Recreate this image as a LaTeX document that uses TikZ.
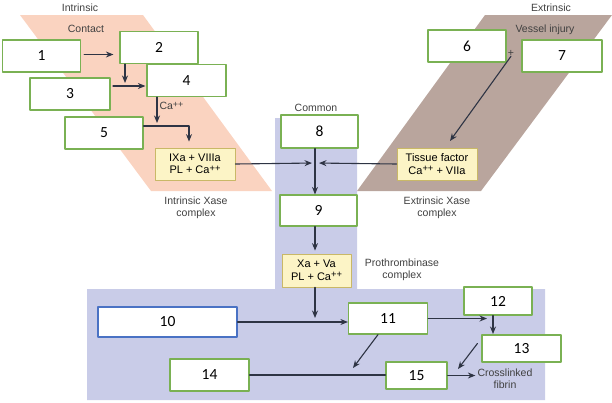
\documentclass[tikz,border=0pt]{standalone}
\usepackage{fontspec}
\setmainfont{Liberation Sans}
\newfontfamily\numfont{Carlito}
\usetikzlibrary{arrows.meta}
\definecolor{peach}{HTML}{FAD3C0}
\definecolor{mauve}{HTML}{B9A59D}
\definecolor{lilac}{HTML}{C9CCE8}
\definecolor{boxgreen}{HTML}{7AB153}
\definecolor{boxblue}{HTML}{4A72C4}
\definecolor{cplxfill}{HTML}{FCF4C6}
\definecolor{cplxedge}{HTML}{C9B867}
\definecolor{arrowc}{HTML}{2E3444}
\definecolor{lblgray}{HTML}{404040}
\newcommand\ionplus{\raisebox{0.45ex}{\scalebox{0.85}{++}}}

\begin{document}
\begin{tikzpicture}[>={Stealth[length=7.5pt, width=6pt]}, line cap=round, line join=round, x=1pt, y=-1pt,
    numbox/.style={draw=boxgreen, line width=1.2pt, fill=white, inner sep=0pt,
      minimum width=78pt, minimum height=32pt, font=\numfont\fontsize{15.5}{17}\selectfont},
    cplx/.style={draw=cplxedge, line width=0.8pt, fill=cplxfill, inner sep=0pt,
      minimum width=80pt, minimum height=32pt, align=center,
      font=\fontsize{11}{12.5}\selectfont},
    lbl/.style={text=lblgray, align=center, inner sep=0pt,
      font=\fontsize{10.5}{12.5}\selectfont},
    flow/.style={->, draw=arrowc, line width=1.1pt},
    link/.style={draw=arrowc, line width=1.1pt}]

          % Fix the page to the size of the picture
          \useasboundingbox (0,0) rectangle (612,402);

          % Background regions: intrinsic, extrinsic and common pathway
          \fill[peach] (20,15) -- (143,15) -- (272,191) -- (151,191) -- cycle;
          \fill[mauve] (485,15) -- (612,15) -- (481,191) -- (357,191) -- cycle;
          \fill[lilac] (275,118) -- (357,118) -- (357,289) -- (545,289)
               -- (545,400) -- (87,400) -- (87,289) -- (275,289) -- cycle;

          % Region titles
          \node[lbl] (intr) at (80,8)   {Intrinsic};
          \node[lbl] (cont) at (86,29)  {Contact};
          \node[lbl] (comm) at (316,108) {Common};
          \node[lbl] (extr) at (551,8)  {Extrinsic};
          \node[lbl] (vess) at (545,30) {Vessel injury};

          % Numbered blanks
          \node[numbox] (n1) at (41.5,56) {1};
          \node[numbox] (n2) at (159,47.5) {2};
          \node[numbox, minimum width=80pt] (n3) at (70,94) {3};
          \node[numbox, minimum width=79pt] (n4) at (186.5,80.5) {4};
          \node[numbox] (n5) at (104,133) {5};
          \node[numbox] (n6) at (467,46) {6};
          \node[numbox, minimum width=80pt] (n7) at (562,56) {7};
          \node[numbox, minimum width=77pt, minimum height=33pt] (n8) at (319.5,131.5) {8};
          \node[numbox, minimum width=77pt, minimum height=31pt] (n9) at (318.5,210.5) {9};
          \node[numbox, draw=boxblue, minimum width=139pt, minimum height=30pt] (n10) at (167.5,322) {10};
          \node[numbox, minimum width=79pt, minimum height=31pt] (n11) at (388,318.5) {11};
          \node[numbox, minimum width=68pt, minimum height=28pt] (n12) at (498,301) {12};
          \node[numbox, minimum width=79pt, minimum height=27pt] (n13) at (521.5,348.5) {13};
          \node[numbox, minimum width=79pt] (n14) at (209.5,375) {14};
          \node[numbox, minimum width=61pt, minimum height=27pt] (n15) at (416.5,375.5) {15};

          % Complexes
          \node[cplx] (ix) at (195,164) {IXa + VIIIa\\PL + Ca\ionplus};
          \node[cplx] (tf) at (437,164) {Tissue factor\\Ca\ionplus{} + VIIa};
          \node[cplx, minimum width=69pt, minimum height=33pt] (xa) at (316.5,270.5) {Xa + Va\\PL + Ca\ionplus};

          \node[lbl] (ixl) at (196,208) {Intrinsic Xase\\complex};
          \node[lbl] (tfl) at (437,208) {Extrinsic Xase\\complex};
          \node[lbl] (xal) at (402,270) {Prothrombinase\\complex};
          \node[lbl, font=\fontsize{10.5}{12}\selectfont] (cf) at (505,379) {Crosslinked\\fibrin};
          \node[lbl] (plus) at (511,53) {+};

          % Junction points
          \coordinate (j2) at (125,83);
          \coordinate (j3) at (113,86);
          \coordinate (j4) at (157,123);
          \coordinate (jc) at (315,163);
          \coordinate (tfin) at (450,141);
          \coordinate (j10) at (315,318);
          \coordinate (j12) at (493,320);
          \coordinate (j13) at (493,334);
          \coordinate (f1) at (353,368);
          \coordinate (f2) at (458,369);

          % Intrinsic cascade
          \draw[flow, shorten <=3pt, shorten >=6pt] ([yshift=1.5pt]n1.east) -- ([yshift=1.5pt]n1.east -| n2.west);
          \draw[flow] (n2.south -| j2) -- (j2);
          \draw[flow, shorten >=1pt] (j3) -- (j3 -| n4.west);
          \draw[flow] (n4.south -| j4) -- node[lbl, right, pos=0.35, xshift=2pt] {Ca\ionplus} (j4);
          \draw[flow] ([yshift=7pt]n5.east) -| ([xshift=-6pt, yshift=6pt]ix.north);

          % Extrinsic cascade
          \draw[flow] (plus.south) -- (tfin);

          % Into the common pathway
          \draw[flow, shorten >=3pt] (ix.east) -- (jc);
          \draw[flow, shorten >=4pt] (tf.west) -- (jc);
          \draw[flow] (n8.south -| jc) -- (n9.north -| jc);
          \draw[flow, shorten >=3pt] (n9.south -| jc) -- (xa.north -| jc);
          \draw[flow] (xa.south -| jc) -- (j10);

          % Bottom row
          \draw[flow] (n10.east) -- (n10.east -| n11.west);
          \draw[flow, shorten >=6pt] (n11.east) -- (n11.east -| j12);
          \draw[flow] (n12.south -| j13) -- (j13);
          \draw[flow] ([xshift=-10pt]n11.south) -- (f1);
          \draw[flow] ([shift={(-4pt,5pt)}]n13.west) -- (f2);
          \draw[link] (n14.east) -- (n14.east -| n15.west);
          \draw[flow, shorten >=2pt] (n15.east) -- (n15.east -| cf.west);
        \end{tikzpicture}
\end{document}
